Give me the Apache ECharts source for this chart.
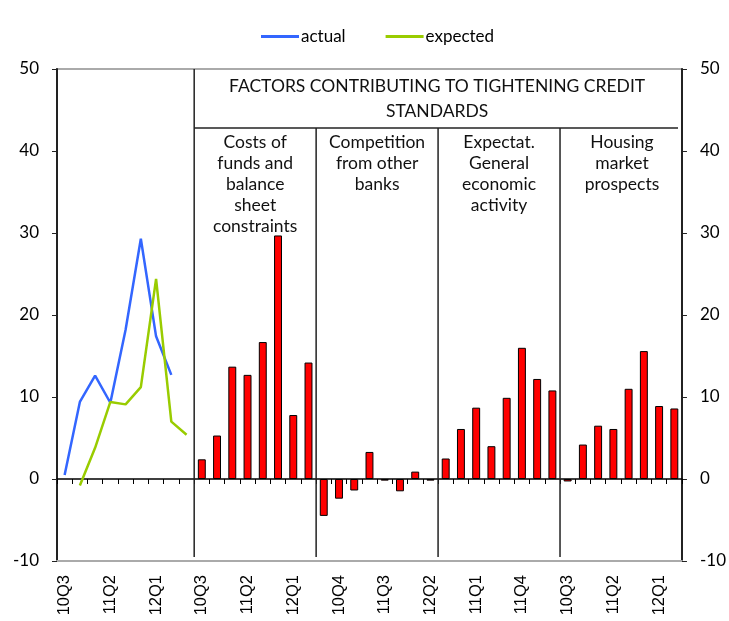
<!DOCTYPE html>
<html>
<head>
<meta charset="utf-8">
<script src="https://cdn.jsdelivr.net/npm/echarts@6/dist/echarts.min.js"></script>
<style>
  html, body { margin: 0; padding: 0; background: #fff; }
  #main { width: 729px; height: 621px; }
</style>
</head>
<body>
<div id="main"></div>
<script>
// 季度 (左边折线区 9 个, 每个因素 8 个)
var lineQuarters = ['10Q3', '10Q4', '11Q1', '11Q2', '11Q3', '11Q4', '12Q1', '12Q2', '12Q3'];
var barQuarters = ['10Q3', '10Q4', '11Q1', '11Q2', '11Q3', '11Q4', '12Q1', '12Q2'];

// 折线: actual 10Q3-12Q2, expected 10Q4-12Q3
var actual = [0.5, 9.4, 12.6, 9.3, 18.2, 29.3, 17.4, 12.7, null];
var expected = [null, -0.8, 3.8, 9.4, 9.1, 11.2, 24.4, 7.0, 5.4];

// 柱子: 四个因素
var costs = [2.4, 5.3, 13.7, 12.7, 16.7, 29.7, 7.8, 14.2];
var competition = [-4.5, -2.4, -1.4, 3.3, -0.2, -1.5, 0.9, -0.2];
var expectations = [2.5, 6.1, 8.7, 4.0, 9.9, 16.0, 12.2, 10.8];
var housing = [-0.3, 4.2, 6.5, 6.1, 11.0, 15.6, 8.9, 8.6];

var panelTitles = [
  'Costs of\nfunds and\nbalance\nsheet\nconstraints',
  'Competition\nfrom other\nbanks',
  'Expectat.\nGeneral\neconomic\nactivity',
  'Housing\nmarket\nprospects'
];
var headerTitle = 'FACTORS CONTRIBUTING TO TIGHTENING CREDIT\nSTANDARDS';
var yTicks = [-10, 0, 10, 20, 30, 40, 50];

var font = 'Lato, "Open Sans", sans-serif';

// 拼出整条类目轴
var categories = lineQuarters.slice();
var barGroups = [costs, competition, expectations, housing];
barGroups.forEach(function () { categories = categories.concat(barQuarters); });

var blank = function (n) { var a = []; for (var i = 0; i < n; i++) a.push(null); return a; };
var barData = blank(lineQuarters.length);
barGroups.forEach(function (g) { barData = barData.concat(g); });
var actualData = actual.concat(blank(categories.length - actual.length));
var expectedData = expected.concat(blank(categories.length - expected.length));

var myChart = echarts.init(document.getElementById('main'));

var yAxisBase = function (pos) {
  return {
    type: 'value', position: pos,
    min: yTicks[0], max: yTicks[yTicks.length - 1], interval: 10,
    splitLine: { show: false },
    axisLine: { show: true, lineStyle: { color: '#222', width: 2 } },
    axisTick: { show: true, length: 5, lineStyle: { color: '#222' } },
    axisLabel: { color: '#000', fontSize: 17, fontFamily: font, margin: 18 }
  };
};

myChart.setOption({
  animation: false,
  grid: { left: 57, right: 45, top: 69, bottom: 60, show: true, borderColor: '#aaa', borderWidth: 2 },
  legend: {
    left: 256, top: 23,
    itemWidth: 38, itemHeight: 3, itemGap: 40,
    icon: 'rect',
    textStyle: { fontSize: 17, fontFamily: font, color: '#000', padding: [0, 0, 0, -3] },
    data: ['actual', 'expected']
  },
  xAxis: [
    {
      type: 'category', data: categories,
      axisLine: { onZero: true, lineStyle: { color: '#000', width: 1.5 } },
      axisTick: { show: true, interval: 0, length: 5, lineStyle: { color: '#000' } },
      axisLabel: { show: false }
    },
    {
      type: 'category', data: categories, position: 'bottom',
      axisLine: { onZero: false, lineStyle: { color: '#aaa', width: 2 } },
      axisTick: { show: false },
      axisLabel: { interval: 2, rotate: 90, fontSize: 16.5, color: '#000', fontFamily: 'Liberation Sans, sans-serif', margin: 14 }
    }
  ],
  yAxis: [yAxisBase('left'), yAxisBase('right')],
  series: [
    {
      name: 'factors', type: 'bar', data: barData, barWidth: '52%',
      itemStyle: { color: '#ff0000', borderColor: '#000', borderWidth: 1 }
    },
    {
      name: 'actual', type: 'line', data: actualData, showSymbol: false, symbol: 'none',
      lineStyle: { color: '#3366ff', width: 2.5 }, itemStyle: { color: '#3366ff' }
    },
    {
      name: 'expected', type: 'line', data: expectedData, showSymbol: false, symbol: 'none',
      lineStyle: { color: '#99cc00', width: 2.5 }, itemStyle: { color: '#99cc00' }
    }
  ]
});

// 分隔线和面板标题
function px(i) { return myChart.convertToPixel({ xAxisIndex: 0 }, i); }
function py(v) { return myChart.convertToPixel({ yAxisIndex: 0 }, v); }

var bounds = [];
for (var k = 0; k <= barGroups.length; k++) {
  var idx = lineQuarters.length + k * barQuarters.length;
  if (k < barGroups.length) bounds.push((px(idx - 1) + px(idx)) / 2);
  else bounds.push(myChart.getWidth() - 45);
}

var yTop = py(50), yHead = py(42.8), yLow = py(-9.5);
var elements = [];
bounds.slice(0, barGroups.length).forEach(function (x, i) {
  elements.push({
    type: 'line', z: 10,
    shape: { x1: x, y1: i === 0 ? yTop : yHead, x2: x, y2: yLow },
    style: { stroke: '#222', lineWidth: 1.5 }
  });
});
elements.push({
  type: 'line', z: 10,
  shape: { x1: bounds[0], y1: yHead, x2: bounds[barGroups.length] - 6, y2: yHead },
  style: { stroke: '#222', lineWidth: 1.5 }
});
elements.push({
  type: 'text', z: 10,
  x: (bounds[0] + bounds[barGroups.length]) / 2 - 2, y: yTop + 5,
  style: { text: headerTitle, fill: '#111', font: '17.5px ' + font, align: 'center', verticalAlign: 'top', lineHeight: 25 }
});
panelTitles.forEach(function (t, i) {
  elements.push({
    type: 'text', z: 10,
    x: (bounds[i] + bounds[i + 1]) / 2, y: yHead + 4,
    style: { text: t, fill: '#111', font: '17.5px ' + font, align: 'center', verticalAlign: 'top', lineHeight: 21 }
  });
});
myChart.setOption({ graphic: { elements: elements } });
</script>
</body>
</html>
